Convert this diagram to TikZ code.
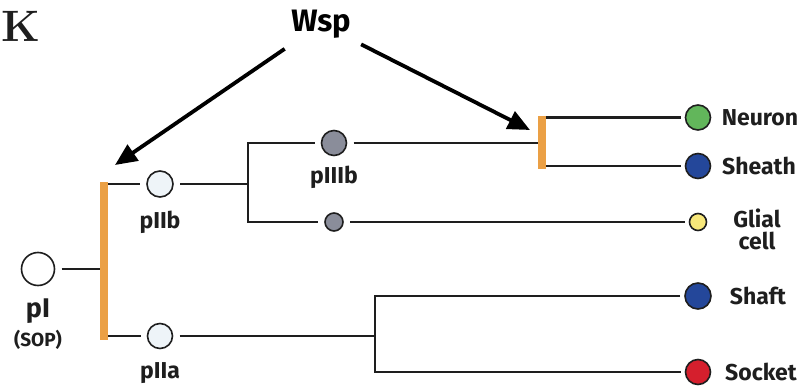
\documentclass[tikz,border=0pt]{standalone}
\usepackage{fontspec}
\setsansfont{Fira Sans}
\usetikzlibrary{arrows.meta}
\definecolor{barorange}{HTML}{EBA045}
\definecolor{cgreen}{HTML}{62B65B}
\definecolor{cblue}{HTML}{24479A}
\definecolor{cyellow}{HTML}{F7E77A}
\definecolor{cred}{HTML}{D51F2D}
\definecolor{cgray}{HTML}{8A8D9A}
\definecolor{cwhite}{HTML}{EEF4F8}
\definecolor{ink}{HTML}{1E1E1E}
\begin{document}
\begin{tikzpicture}[x=1pt,y=-1pt,
  conn/.style={line width=2.8pt, draw=ink},
  cell/.style={circle, draw=ink, line width=1.6pt, inner sep=0pt, outer sep=7pt},
  lbl/.style={font=\sffamily\bfseries\fontsize{23}{24}\selectfont, text=ink},
  barbox/.style={fill=barorange, draw=none, inner sep=0pt, minimum width=8pt},
  wsparrow/.style={line width=3.8pt, draw=black, -{Triangle[length=22pt,width=19pt]}}]
\useasboundingbox (0,0) rectangle (801,388);

% panel letter and Wsp
\node[font=\bfseries\fontsize{44}{44}\selectfont, text=ink] (K) at (21,26) {K};
\node[font=\sffamily\bfseries\fontsize{31}{31}\selectfont, text=black] (wsp) at (321,24) {Wsp};

% orange bars
\node[barbox, minimum height=158pt] (bar1) at (104,261) {};
\node[barbox, minimum height=53pt] (bar2) at (542,142) {};

% cells
\node[cell, minimum size=33pt, fill=white] (pI) at (38,269) {};
\node[cell, minimum size=26pt, fill=cwhite] (pIIb) at (160,184) {};
\node[cell, minimum size=25pt, fill=cwhite] (pIIa) at (160,336) {};
\node[cell, minimum size=25pt, fill=cgray] (pIIIb) at (334,143) {};
\node[cell, minimum size=18pt, fill=cgray] (glia0) at (334,222) {};
\node[cell, minimum size=25pt, fill=cgreen, outer sep=5pt] (neuron) at (698,117.5) {};
\node[cell, minimum size=25pt, fill=cblue, outer sep=5pt] (sheath) at (698,166) {};
\node[cell, minimum size=17pt, fill=cyellow, outer sep=5pt] (glial) at (698,222) {};
\node[cell, minimum size=26pt, fill=cblue, outer sep=5pt] (shaft) at (698,296) {};
\node[cell, minimum size=25pt, fill=cred, outer sep=5pt] (socket) at (698,372) {};

% junctions
\coordinate (j1) at (248,184);
\coordinate (j2) at (375,336);

% connectors
\draw[conn] (pI) -- (bar1.west |- pI);
\draw[conn] (bar1.east |- pIIb) -- (pIIb);
\draw[conn] (bar1.east |- pIIa) -- (pIIa);
\draw[conn] (pIIb) -- (j1);
\draw[conn] (pIIIb) -| (j1) |- (glia0);
\draw[conn] (pIIIb) -- (bar2.west |- pIIIb);
\draw[conn] (bar2.east |- neuron) -- (neuron);
\draw[conn] (bar2.east |- sheath) -- (sheath);
\draw[conn] (glia0) -- (glial);
\draw[conn] (pIIa) -- (j2);
\draw[conn] (shaft) -| (j2) |- (socket);

% Wsp arrows
\coordinate (tipL) at (115,165);
\coordinate (tipR) at (530,130);
\draw[wsparrow, shorten <=44pt] (wsp.center) -- (tipL);
\draw[wsparrow, shorten <=45pt] (wsp.center) -- (tipR);

% labels
\node[lbl, font=\sffamily\bfseries\fontsize{27}{28}\selectfont] (lpI) at (38,311) {pI};
\node[lbl, font=\sffamily\bfseries\fontsize{19}{20}\selectfont] (lsop) at (38,340) {(SOP)};
\node[lbl] (lpIIb) at (160,222) {pIIb};
\node[lbl] (lpIIa) at (160,373) {pIIa};
\node[lbl] (lpIIIb) at (334,177) {pIIIb};
\node[lbl] (lneuron) at (760,118) {Neuron};
\node[lbl] (lsheath) at (759,166) {Sheath};
\node[lbl, align=center, font=\sffamily\bfseries\fontsize{23}{22}\selectfont] (lglial) at (757,229) {Glial\\cell};
\node[lbl] (lshaft) at (758,296) {Shaft};
\node[lbl] (lsocket) at (761,372) {Socket};
\end{tikzpicture}
\end{document}
